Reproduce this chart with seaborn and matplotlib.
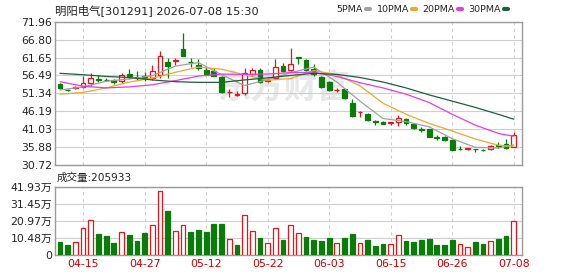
import numpy as np
import pandas as pd
import matplotlib
matplotlib.use("Agg")
import matplotlib.pyplot as plt
from matplotlib.lines import Line2D
import seaborn as sns

# chart data
title = "明阳电气[301291] 2026-07-08 15:30"
vol_title = "成交量:205933"
date_ticks = [3, 11, 19, 27, 35, 43, 51, 59]
date_labels = ["04-15", "04-27", "05-12", "05-22", "06-03", "06-15", "06-26", "07-08"]
price_ticks = [30.72, 35.88, 41.03, 46.19, 51.34, 56.49, 61.65, 66.80, 71.96]
vol_ticks = [0, 10.48, 20.97, 31.45, 41.93]

opens = [54.0, 52.4, 52.8, 53.2, 54.3, 55.6, 55.3, 55.2, 54.8, 56.9,
         56.1, 56.2, 55.9, 56.5, 60.4, 60.6, 64.2, 60.5, 59.5, 58.1,
         57.8, 56.0, 51.6, 51.0, 51.3, 56.9, 58.0, 55.0, 55.9, 59.2,
         58.1, 61.8, 60.9, 58.3, 56.0, 54.5, 52.2, 52.5, 48.5, 45.9,
         45.3, 43.5, 43.2, 42.7, 43.2, 43.9, 42.4, 41.1, 41.0, 38.8,
         38.8, 37.9, 35.4, 35.3, 35.4, 35.1, 35.2, 36.4, 36.7, 36.0]
highs = [54.3, 52.7, 53.5, 56.4, 57.2, 56.5, 55.9, 55.6, 57.2, 58.4,
         57.8, 57.4, 59.5, 63.4, 61.4, 61.4, 68.7, 61.6, 61.1, 59.0,
         58.6, 56.2, 52.5, 52.1, 58.7, 58.7, 58.6, 55.8, 61.1, 60.2,
         64.3, 61.8, 61.3, 59.9, 56.2, 54.8, 52.9, 52.7, 49.6, 46.2,
         45.6, 43.7, 43.3, 43.2, 45.0, 44.3, 42.6, 41.7, 41.1, 39.4,
         39.0, 38.1, 36.1, 35.7, 35.4, 35.4, 36.5, 37.3, 38.1, 40.2]
lows = [52.6, 52.0, 52.6, 52.9, 53.4, 54.6, 54.8, 54.1, 54.3, 55.5,
        55.3, 55.0, 55.3, 55.9, 55.7, 59.5, 62.0, 59.0, 58.1, 56.5,
        56.2, 51.3, 50.3, 50.6, 51.0, 56.5, 54.2, 54.6, 55.6, 57.5,
        57.9, 59.7, 57.8, 56.3, 53.0, 52.0, 51.6, 49.8, 44.6, 44.6,
        43.4, 42.3, 42.4, 42.1, 42.0, 42.1, 41.2, 40.3, 38.7, 38.0,
        37.5, 34.9, 34.9, 35.0, 34.6, 34.7, 35.0, 35.6, 35.4, 35.8]
closes = [52.8, 52.2, 53.2, 54.3, 55.9, 55.3, 55.1, 54.6, 56.5, 56.2,
          55.9, 55.7, 57.9, 62.1, 59.3, 60.8, 62.1, 60.3, 58.7, 56.7,
          56.2, 51.7, 51.8, 51.2, 57.3, 58.1, 54.6, 55.2, 59.0, 57.9,
          59.8, 61.6, 58.1, 57.0, 53.3, 52.3, 52.4, 50.0, 44.8, 46.1,
          43.7, 43.2, 42.6, 43.0, 44.3, 42.8, 41.5, 40.9, 38.9, 38.6,
          37.8, 35.1, 35.3, 35.5, 35.3, 35.0, 36.3, 36.1, 35.6, 39.3]
# volume in 万
volume = [7.8, 6.1, 7.8, 16.4, 21.3, 12.7, 11.7, 7.4, 13.9, 12.3,
          8.6, 13.5, 18.2, 39.1, 27.0, 14.5, 18.2, 14.1, 15.3, 14.1,
          19.0, 19.0, 9.6, 6.1, 24.3, 14.5, 10.4, 7.2, 16.4, 9.4,
          18.3, 13.3, 11.2, 9.2, 8.6, 10.6, 7.2, 10.6, 12.9, 7.2,
          9.2, 5.5, 6.8, 6.5, 12.3, 8.6, 7.8, 9.2, 10.0, 6.1,
          6.1, 9.2, 6.5, 4.9, 7.8, 6.8, 8.6, 10.0, 11.7, 20.59]

# moving average lines, read every third bar
ma_idx = [0, 3, 6, 9, 12, 15, 18, 21, 24, 27, 30, 33, 36, 39, 42, 45, 48, 51, 54, 57, 59]
ma5 = [52.3, 53.2, 54.8, 55.5, 56.4, 59.2, 60.2, 56.7, 53.6, 55.3, 57.3,
       58.9, 54.6, 49.1, 44.1, 43.2, 41.7, 38.3, 35.8, 35.6, 36.5]
ma10 = [51.1, 51.6, 52.9, 54.6, 55.7, 57.4, 58.9, 58.3, 56.7, 55.1, 55.6,
        57.9, 56.7, 53.5, 48.5, 45.3, 42.7, 40.5, 38.2, 36.4, 36.1]
ma20 = [54.7, 53.4, 52.9, 53.2, 53.8, 55.0, 56.3, 56.9, 56.8, 56.9, 57.3,
        57.4, 56.2, 54.4, 52.9, 51.1, 48.7, 45.3, 42.2, 39.8, 39.0]
ma30 = [57.1, 56.7, 56.2, 55.9, 55.2, 54.7, 54.5, 54.5, 55.2, 55.8, 56.5,
        57.1, 56.8, 55.9, 54.6, 52.9, 50.9, 49.1, 47.3, 45.3, 43.9]
ma_names = ["5PMA", "10PMA", "20PMA", "30PMA"]
ma_colors = ["#a0a0a0", "#eca92c", "#e33ee3", "#1d5e3c"]

RED = "#e3151b"
GREEN = "#0a7c0a"
GRID = "#cfcfcf"

sns.set_theme(style="white")
plt.rcParams["font.family"] = ["DejaVu Sans", "Noto Sans CJK SC"]

df = pd.DataFrame({"open": opens, "high": highs, "low": lows, "close": closes, "vol": volume})
df["i"] = np.arange(len(df))
up = df["close"] >= df["open"]
vol_up = df["close"] >= df["close"].shift(1).fillna(df["open"])

ma_df = pd.concat([pd.DataFrame({"i": ma_idx, "v": v, "line": n})
                   for n, v in zip(ma_names, [ma5, ma10, ma20, ma30])])

fig = plt.figure(figsize=(5.78, 2.76), dpi=100)
ax = fig.add_axes([55 / 578, 1 - 165 / 276, 467 / 578, 143.3 / 276])
axv = fig.add_axes([55 / 578, 1 - 255 / 276, 467 / 578, 68.3 / 276])

# watermark
ax.text(0.49, 0.53, "东方财富", transform=ax.transAxes, ha="center", va="center",
        fontsize=24, fontweight="bold", color="#e8e8e8", zorder=0,
        family=["Noto Sans CJK SC"])

# candles
ax.vlines(df["i"], df["low"], df["high"], colors=np.where(up, RED, GREEN), lw=0.9, zorder=2)
body_bottom = np.minimum(df["open"], df["close"])
body_h = np.maximum((df["close"] - df["open"]).abs(), 0.08)
ax.bar(df["i"], body_h, bottom=body_bottom, width=0.62,
       color=np.where(up, "white", GREEN), edgecolor=np.where(up, RED, GREEN),
       lw=0.9, zorder=3)

sns.lineplot(data=ma_df, x="i", y="v", hue="line", palette=ma_colors,
             hue_order=ma_names, legend=False, lw=0.9, ax=ax, zorder=4)

# volume
axv.bar(df["i"], df["vol"], width=0.62, color=np.where(vol_up, "white", GREEN),
        edgecolor=np.where(vol_up, RED, GREEN), lw=0.9, zorder=3)

for a in (ax, axv):
    a.set_xlim(-0.65, 60.07)
    a.set_xticks(date_ticks)
    a.grid(axis="x", color=GRID, ls=(0, (3, 3)), lw=0.8)
    a.grid(axis="y", color=GRID, ls="-", lw=0.8)
    a.set_axisbelow(True)
    a.set_xlabel("")
    a.set_ylabel("")
    for s in a.spines.values():
        s.set_color("#9a9a9a")
        s.set_linewidth(1)
    a.tick_params(length=0, labelsize=7.8, colors="#222222", pad=2)

ax.set_ylim(price_ticks[0], price_ticks[-1])
ax.set_yticks(price_ticks)
ax.set_yticklabels([f"{t:.2f}" for t in price_ticks])
ax.set_xticklabels([])

axv.set_ylim(0, vol_ticks[-1])
axv.set_yticks(vol_ticks)
axv.set_yticklabels(["0"] + [f"{t:.2f}万" for t in vol_ticks[1:]])
axv.set_xticklabels(date_labels)
axv.tick_params(axis="x", colors="#cc0000", pad=3)

fig.text(55 / 578, 1 - 10 / 276, title, ha="left", va="center", fontsize=8.2, color="#222222")
fig.text(57 / 578, 1 - 178 / 276, vol_title, ha="left", va="center", fontsize=7.6, color="#222222")

handles = [Line2D([], [], color=c, lw=3) for c in ma_colors]
fig.legend(handles, ma_names, loc="center right", bbox_to_anchor=(513 / 578, 1 - 10 / 276),
           ncol=4, frameon=False, markerfirst=False, handlelength=0.45, handletextpad=0.3,
           columnspacing=0.7, fontsize=6.8, borderpad=0)

fig.savefig("out.png", dpi=100)
